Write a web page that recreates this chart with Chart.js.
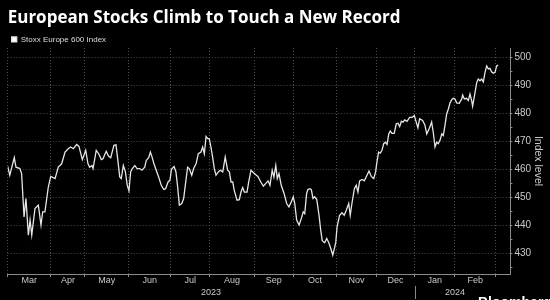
<!DOCTYPE html>
<html>
<head>
<meta charset="utf-8">
<script src="https://cdn.jsdelivr.net/npm/chart.js@4.4.1/dist/chart.umd.min.js"></script>
<style>
html, body { margin: 0; padding: 0; background: #000; }
#wrap { position: relative; width: 550px; height: 300px; }
</style>
</head>
<body>
<div id="wrap"><canvas id="chart" width="550" height="300"></canvas></div>
<script>
// Stoxx Europe 600, trading days counted from 1 Mar 2023
const tradingDay = [
  0,1.1,3.5,4.4,6.5,7.4,8.7,9.7,11.0,11.9,12.8,14.5,16.3,17.7,18.6,19.8,21.6,22.9,25.2,26.9,28.7,30.5,32.2,33.5,34.9,36.7,37.9,39.7,41.5,
  42.7,43.6,44.8,45.4,47.1,48.4,49.8,50.7,52.4,53.7,54.8,56.5,57.6,58.7,59.6,60.4,61.5,62.6,63.6,64.5,65.4,66.3,67.6,68.8,70.2,71.4,72.9,73.7,75.0,75.9,76.8,77.8,79.0,80.3,81.7,83.0,84.0,85.3,86.3,
  87.1,88.5,89.5,90.4,91.3,92.6,93.6,94.8,95.7,96.6,97.9,98.9,100.2,101.4,102.8,103.7,104.6,105.5,106.4,107.2,108.1,109.0,109.9,110.8,112.0,113.1,114.4,115.7,117.0,117.9,118.8,119.7,120.5,122.0,123.2,124.1,125.0,125.9,127.3,128.2,129.4,130.9,
  132.1,133.1,134.6,136.0,137.2,138.5,139.5,140.7,141.6,142.6,143.4,144.3,145.5,147.0,148.4,149.6,150.9,151.9,152.7,153.7,155.0,156.2,157.2,158.0,159.0,159.7,160.8,161.5,162.4,163.3,164.4,165.6,166.5,167.3,168.6,169.7,170.9,172.1,172.9,173.6,174.5,
  175.2,176.5,177.8,179.0,180.1,181.4,182.2,183.1,184.4,185.4,186.3,187.2,188.5,189.7,191.1,192.2,193.4,194.7,195.7,196.4,197.3,198.2,199.1,200.0,200.9,201.8,202.7,203.5,204.4,205.6,206.7,207.6,208.5,209.4,210.3,211.2,212.4,213.8,215.1,216.3,217.3,218.2,219.1,
  220.7,221.9,222.9,224.3,225.5,226.4,227.3,228.2,229.0,229.9,230.9,231.7,232.6,233.5,234.4,235.3,236.2,237.0,237.9,238.8,240.2,241.5,242.0,242.9,244.1,245.0,245.9,246.8,247.3,248.6,249.5,250.3,251.2,252.1,253.0,253.9,254.8,255.7,256.5,257.4,258.3,259.2,260.1,260.9
];
const indexLevel = [
  461.1,457.9,464.2,460.8,460.3,458.5,443,449.6,436.5,441.9,436.5,446,447.2,440.1,444.8,444.8,453.7,457.5,456.7,460.8,462,466.2,467.4,468,467.4,468.9,468.2,463.5,466.8,
  462,460.8,461.4,460.3,466.8,465.6,463.5,463.8,466.5,464.7,464.2,468.6,468.8,462.6,457.3,456.7,461.4,459.1,454.3,452.3,459.1,460.3,461.4,460.3,460.3,459.7,460.8,463.2,464.2,466.2,464.4,462,459.7,457.3,454.3,452.8,453.1,455.5,456.1,
  460,461,459.1,453.7,447.2,447.8,449.6,456.1,460.8,460.3,457.9,460.3,462,465.6,466.2,468,465.6,471.8,471,471,468,464.4,460.3,457.9,459.1,459.7,459.1,464.4,459.7,459.1,455.5,455.5,452.5,449,449.2,451.9,453.5,451.9,451.9,455.5,459.7,458.7,
  458,457.5,455.5,454,454.9,455.9,454.3,459.7,457.3,461.4,456.7,458.5,454.3,451.4,447.8,446.6,448.4,450.2,447.8,441.9,440.1,442.5,444.8,444.2,451.4,452.8,453.1,452.8,449.6,450.2,449.2,443.6,438.3,434.5,433.8,435.3,433.6,431.2,429.4,431.2,433.8,
  439.5,443.5,444.5,443.6,445.4,447.8,443.6,447.8,453.1,454.3,451.9,455.9,456.4,455.9,457.9,459.4,457.5,456.7,459.1,462.6,466.2,465.8,466.8,469.2,469.7,468.9,472.7,473.7,472.9,472.9,476.3,476.5,475.3,477.2,476.9,477.7,477.2,478.6,478.6,479.2,476.9,474.9,478.1,
  477.5,475.9,472.7,474.7,476.9,473.1,468,469.7,469.2,470.3,472.7,472.1,475.7,479.8,481.6,483.8,484.9,485.4,485.2,483.8,483.6,485.2,486.6,485.2,485.4,484.6,486.9,484.6,482.6,487.5,491.1,492.3,491.7,492.3,491.3,494.7,497,495.9,496.1,494.9,494.4,494.7,497,497.3
];

const months = ['Mar','Apr','May','Jun','Jul','Aug','Sep','Oct','Nov','Dec','Jan','Feb'];
const monthStart = [0,23,41.1,64.4,86.8,107.5,131.2,151.9,175,196.1,216.4,237.9,259.4];
const years = ['2023','2024'];
const yearFirstMonth = [0,10,12];
const yTicks = [425,430,435,440,445,450,455,460,465,470,475,480,485,490,495,500];

const gridCol = '#4d4d4d';
const axisCol = '#8a8a8a';
const labelCol = '#c8c8c8';

const points = tradingDay.map((d, i) => ({x: d, y: indexLevel[i]}));

// month + year labels sit between the month ticks
const xLabels = {
  id: 'xLabels',
  afterDraw(chart) {
    const ctx = chart.ctx;
    const sx = chart.scales.x;
    const bottom = chart.chartArea.bottom;
    ctx.save();
    ctx.fillStyle = labelCol;
    ctx.font = '9px "Liberation Sans"';
    ctx.textAlign = 'center';
    ctx.textBaseline = 'middle';
    for (let i = 0; i < months.length; i++) {
      const mid = (monthStart[i] + monthStart[i + 1]) / 2;
      ctx.fillText(months[i], sx.getPixelForValue(mid), bottom + 7);
    }
    for (let i = 0; i < years.length; i++) {
      const a = monthStart[yearFirstMonth[i]], b = monthStart[yearFirstMonth[i + 1]];
      ctx.fillText(years[i], sx.getPixelForValue((a + b) / 2), bottom + 19);
    }
    const sep = Math.round(sx.getPixelForValue(monthStart[10])) + 0.5;
    ctx.strokeStyle = axisCol;
    ctx.lineWidth = 1;
    ctx.beginPath();
    ctx.moveTo(sep, bottom + 12);
    ctx.lineTo(sep, bottom + 25);
    ctx.stroke();
    ctx.fillStyle = '#fff';
    ctx.font = 'bold 14px "Liberation Sans"';
    ctx.textAlign = 'left';
    ctx.textBaseline = 'top';
    ctx.fillText('Bloomberg', 478, 296);
    ctx.restore();
  }
};

const legendGap = {
  id: 'legendGap',
  beforeInit(chart) {
    const fit = chart.legend.fit;
    chart.legend.fit = function () {
      fit.bind(chart.legend)();
      this.height -= 5.4;
    };
  }
};

new Chart(document.getElementById('chart'), {
  type: 'line',
  data: {
    datasets: [{
      label: 'Stoxx Europe 600 Index',
      data: points,
      borderColor: '#e6e6e6',
      backgroundColor: '#ffffff',
      borderWidth: 1.3,
      pointRadius: 0,
      tension: 0
    }]
  },
  options: {
    responsive: false,
    animation: false,
    layout: { padding: { left: 7.7, right: 0, top: 0, bottom: 0 } },
    scales: {
      x: {
        type: 'linear',
        min: 0,
        max: 267.4,
        afterBuildTicks: s => { s.ticks = monthStart.map(v => ({value: v})); },
        ticks: { display: false },
        grid: { color: gridCol, lineWidth: 1, drawTicks: true, tickLength: 3, tickColor: axisCol },
        border: { display: true, color: axisCol, width: 1, dash: [1, 2] },
        afterFit: s => { s.height = 26; }
      },
      y: {
        position: 'right',
        min: 422.6,
        max: 503.4,
        afterBuildTicks: s => { s.ticks = yTicks.map(v => ({value: v})); },
        ticks: {
          color: labelCol,
          font: { family: 'Liberation Sans', size: 10 },
          padding: 2,
          autoSkip: false,
          callback: v => (v % 10 === 0 ? v : '')
        },
        grid: {
          color: c => (c.tick && c.tick.value % 10 === 0 ? gridCol : 'transparent'),
          tickLength: 2,
          tickColor: axisCol
        },
        border: { display: true, color: axisCol, width: 1, dash: [1, 2] },
        title: {
          display: true,
          text: 'Index level',
          color: labelCol,
          font: { family: 'Liberation Sans', size: 10.5 },
          padding: { top: 6, bottom: 0 }
        },
        afterFit: s => { s.width = 39.6; }
      }
    },
    plugins: {
      title: {
        display: true,
        text: 'European Stocks Climb to Touch a New Record',
        align: 'start',
        color: '#ffffff',
        font: { family: 'Open Sans', size: 17, weight: 'bold' },
        padding: { top: 8, bottom: 3 }
      },
      legend: {
        display: true,
        align: 'start',
        labels: {
          color: '#dddddd',
          font: { family: 'Liberation Sans', size: 8 },
          boxWidth: 5,
          boxHeight: 5,
          padding: 4
        }
      },
      tooltip: { enabled: false }
    }
  },
  plugins: [legendGap, xLabels]
});
</script>
</body>
</html>
